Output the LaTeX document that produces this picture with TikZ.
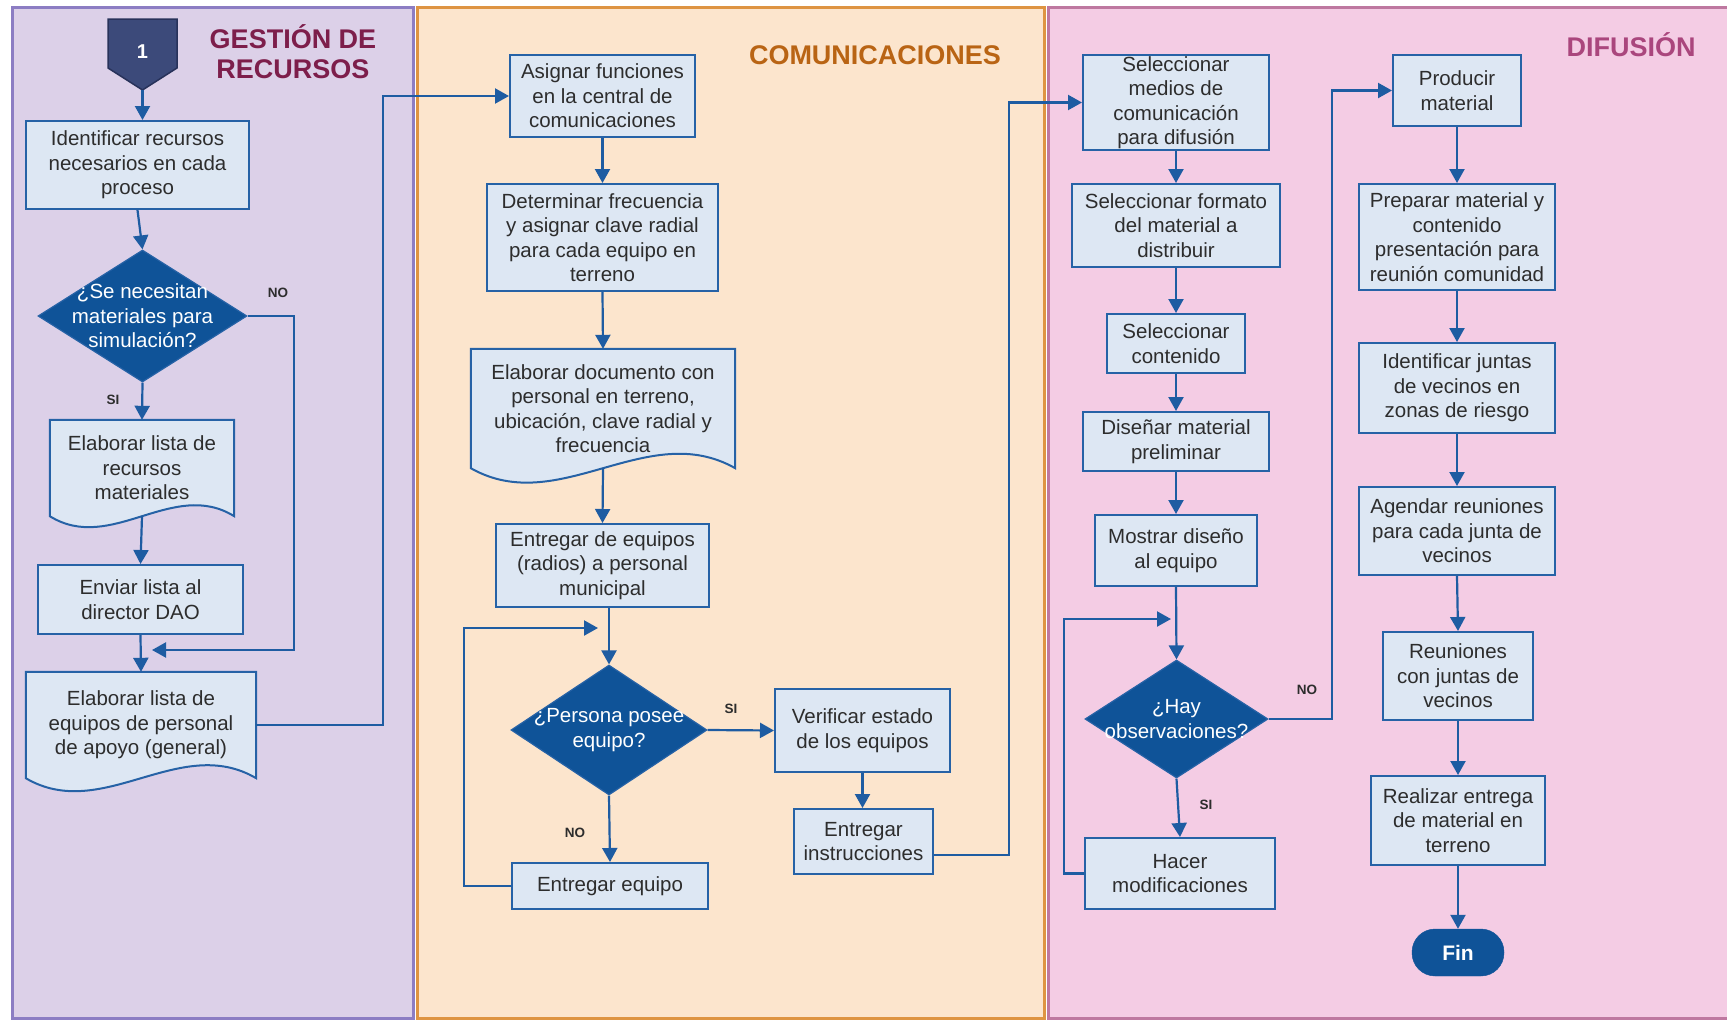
\documentclass[tikz,border=0pt]{standalone}
\usepackage{fontspec}
\setmainfont{Liberation Sans}
\usetikzlibrary{arrows.meta,shapes.geometric,calc}
\pgfdeclarelayer{lanes}
\pgfdeclarelayer{docbg}
\pgfsetlayers{lanes,docbg,main}
\definecolor{laneAfill}{RGB}{220,208,232}
\definecolor{laneAdraw}{RGB}{140,125,195}
\definecolor{laneBfill}{RGB}{252,229,205}
\definecolor{laneBdraw}{RGB}{222,148,66}
\definecolor{laneCfill}{RGB}{244,204,228}
\definecolor{laneCdraw}{RGB}{190,120,160}
\definecolor{titA}{RGB}{125,30,75}
\definecolor{titB}{RGB}{185,100,20}
\definecolor{titC}{RGB}{170,70,125}
\definecolor{boxblue}{RGB}{38,98,166}
\definecolor{boxfill}{RGB}{221,231,243}
\definecolor{arrblue}{RGB}{30,92,162}
\definecolor{decblue}{RGB}{15,83,152}
\definecolor{navy}{RGB}{60,74,122}
\definecolor{navydark}{RGB}{40,50,90}
\definecolor{txt}{RGB}{45,45,45}
\newcommand\boxfont{\fontsize{20.5}{24.5}\selectfont}
\newcommand\lblfont{\fontsize{13.5}{16}\selectfont\bfseries}
\newcommand\titfont{\fontsize{27}{30}\selectfont\bfseries}
\newcommand\docwave[2]{\draw[docline] (#1.north west) -- (#1.north east) -- (#1.south east)
  .. controls ($(#1.south east)!1/3!(#1.south west)+(0,-#2)$) and ($(#1.south east)!2/3!(#1.south west)+(0,#2)$) .. (#1.south west) -- cycle;}
\tikzset{
  box/.style={rectangle, draw=boxblue, fill=boxfill, line width=2pt, inner sep=0pt, align=center, font=\boxfont, text=txt},
  docnode/.style={rectangle, inner sep=0pt, align=center, font=\boxfont, text=txt},
  docline/.style={draw=boxblue, fill=boxfill, line width=2pt, line join=miter},
  dec/.style={diamond, draw=boxblue, fill=decblue, inner sep=0pt, line width=1.2pt},
  dectext/.style={font=\boxfont, text=white, align=center},
  arr/.style={draw=arrblue, line width=2.2pt, -{Triangle[length=14pt,width=15pt]}},
  lbl/.style={font=\lblfont, text=txt, inner sep=0pt},
  finnode/.style={rectangle, rounded corners=23pt, draw=decblue, fill=decblue, text=white, font=\fontsize{21}{24}\selectfont\bfseries, inner sep=0pt},
  lanetitle/.style={font=\titfont, align=center, inner sep=0pt}
}
\begin{document}
\begin{tikzpicture}[x=1pt,y=-1pt]
\useasboundingbox (0,0) rectangle (1727,1020);
\begin{pgfonlayer}{lanes}
  \fill[white] (0,0) rectangle (1727,1020);
  \draw[fill=laneAfill, draw=laneAdraw, line width=3pt] (12,7) rectangle (413,1018);
  \draw[fill=laneBfill, draw=laneBdraw, line width=3pt] (417,7) rectangle (1044,1018);
  \draw[fill=laneCfill, draw=laneCdraw, line width=3pt] (1048,7) rectangle (1735,1018);
\end{pgfonlayer}

% lane titles
\node[lanetitle, text=titA] (tA) at (293,52) {GESTIÓN DE\\RECURSOS};
\node[lanetitle, text=titB] (tB) at (875,55) {COMUNICACIONES};
\node[lanetitle, text=titC] (tC) at (1631,45) {DIFUSIÓN};

% start off-page connector
\filldraw[fill=navy, draw=navydark, line width=1.5pt] (108,19) -- (177,19) -- (177,68) -- (142.5,90) -- (108,68) -- cycle;
\node[text=white, font=\fontsize{20}{24}\selectfont\bfseries] (start) at (142.5,52) {1};
\coordinate (starttip) at (142.5,90);

% lane 1
\node[box, minimum width=223pt, minimum height=88pt] (box1) at (137.5,165) {Identificar recursos\\necesarios en cada\\proceso};
\node[dec, minimum width=209pt, minimum height=132pt, label={[dectext]center:{¿Se necesitan\\materiales para\\simulación?}}] (dia1) at (142.5,316) {};
\node[docnode, minimum width=184pt, minimum height=96pt] (doc1) at (142,468) {Elaborar lista de\\recursos\\materiales};
\node[box, minimum width=205pt, minimum height=69pt] (enviar) at (140.5,599.5) {Enviar lista al\\director DAO};
\node[docnode, minimum width=230pt, minimum height=106pt] (doc2) at (141,725) {Elaborar lista de\\equipos de personal\\de apoyo (general)};
\coordinate (j1) at (152,650);

% lane 2
\node[box, minimum width=185pt, minimum height=82pt] (asig) at (602.5,96) {Asignar funciones\\en la central de\\comunicaciones};
\node[box, minimum width=231pt, minimum height=107pt] (det) at (602.5,237.5) {Determinar frecuencia\\y asignar clave radial\\para cada equipo en\\terreno};
\node[docnode, minimum width=264pt, minimum height=119pt] (doc3) at (603,408.5) {Elaborar documento con\\personal en terreno,\\ubicación, clave radial y\\frecuencia};
\node[box, minimum width=213pt, minimum height=83pt] (ent1) at (602.5,565.5) {Entregar de equipos\\(radios) a personal\\municipal};
\node[dec, minimum width=196pt, minimum height=130pt, label={[dectext]center:{¿Persona posee\\equipo?}}] (dia2) at (609,730) {};
\node[box, minimum width=196pt, minimum height=46pt] (enteq) at (610,886) {Entregar equipo};
\node[box, minimum width=175pt, minimum height=83pt] (verif) at (862.5,730.5) {Verificar estado\\de los equipos};
\node[box, minimum width=139pt, minimum height=65pt] (instr) at (863.5,841.5) {Entregar\\instrucciones};
\coordinate (j3) at (598,628);

% lane 3
\node[box, minimum width=186pt, minimum height=95pt] (selmed) at (1176,102.5) {Seleccionar\\medios de\\comunicación\\para difusión};
\node[box, minimum width=208pt, minimum height=83pt] (selfor) at (1176,225.5) {Seleccionar formato\\del material a\\distribuir};
\node[box, minimum width=138pt, minimum height=59pt] (selcont) at (1176,343.5) {Seleccionar\\contenido};
\node[box, minimum width=186pt, minimum height=59pt] (disen) at (1176,441.5) {Diseñar material\\preliminar};
\node[box, minimum width=162pt, minimum height=71pt] (mostrar) at (1176,550.5) {Mostrar diseño\\al equipo};
\node[dec, minimum width=183pt, minimum height=118pt, label={[dectext]center:{¿Hay\\observaciones?}}] (dia3) at (1176.5,719) {};
\node[box, minimum width=190pt, minimum height=71pt] (hacer) at (1180,873.5) {Hacer\\modificaciones};
\coordinate (j4) at (1171,619);
\node[box, minimum width=128pt, minimum height=71pt] (prod) at (1457,90.5) {Producir\\material};
\node[box, minimum width=196pt, minimum height=106pt] (prep) at (1457,237) {Preparar material y\\contenido\\presentación para\\reunión comunidad};
\node[box, minimum width=196pt, minimum height=90pt] (ident) at (1457,388) {Identificar juntas\\de vecinos en\\zonas de riesgo};
\node[box, minimum width=196pt, minimum height=88pt] (agend) at (1457,531) {Agendar reuniones\\para cada junta de\\vecinos};
\node[box, minimum width=150pt, minimum height=88pt] (reun) at (1458,676) {Reuniones\\con juntas de\\vecinos};
\node[box, minimum width=174pt, minimum height=89pt] (real) at (1458,820.5) {Realizar entrega\\de material en\\terreno};
\node[finnode, minimum width=92pt, minimum height=47pt] (fin) at (1458,952.5) {Fin};

% document shapes
\begin{pgfonlayer}{docbg}
  \docwave{doc1}{38}
  \docwave{doc2}{45}
  \docwave{doc3}{50}
\end{pgfonlayer}

% labels
\node[lbl] (lno1) at (278,293) {NO};
\node[lbl] (lsi1) at (113,400) {SI};
\node[lbl] (lsi2) at (731,709) {SI};
\node[lbl] (lno2) at (575,833) {NO};
\node[lbl] (lno3) at (1307,690) {NO};
\node[lbl] (lsi3) at (1206,805) {SI};

% connectors lane 1
\draw[arr] (starttip) -- (starttip |- box1.north);
\draw[arr] (box1.south) -- (dia1.north);
\draw[arr] (dia1.south) -- (doc1.north);
\draw[arr] (dia1.east) -- ++(46,0) |- (j1);
\draw[arr] (doc1.south) -- (enviar.north);
\draw[arr] (enviar.south) -- (doc2.north);
\draw[arr] (doc2.east) -- ++(127,0) |- (asig.west);

% connectors lane 2
\draw[arr] (asig.south) -- (det.north);
\draw[arr] (det.south) -- (doc3.north);
\draw[arr] (doc3.south) -- (ent1.north);
\draw[arr] (ent1.south -| dia2.north) -- (dia2.north);
\draw[arr] (enteq.west) -- ++(-47,0) |- (j3);
\draw[arr] (dia2.east) -- (verif.west);
\draw[arr] (dia2.south) -- (enteq.north);
\draw[arr] (verif.south) -- (verif.south |- instr.north);
\draw[arr] ([yshift=-13.5pt]instr.east) -- ++(75,0) |- (selmed.west);

% connectors lane 3
\draw[arr] (selmed.south) -- (selfor.north);
\draw[arr] (selfor.south) -- (selcont.north);
\draw[arr] (selcont.south) -- (disen.north);
\draw[arr] (disen.south) -- (mostrar.north);
\draw[arr] (mostrar.south) -- (dia3.north);
\draw[arr] (hacer.west) -- ++(-20,0) |- (j4);
\draw[arr] (dia3.south) -- (hacer.north);
\draw[arr] (dia3.east) -- ++(63,0) |- (prod.west);
\draw[arr] (prod.south) -- (prep.north);
\draw[arr] (prep.south) -- (ident.north);
\draw[arr] (ident.south) -- (agend.north);
\draw[arr] (agend.south) -- (reun.north);
\draw[arr] (reun.south) -- (real.north);
\draw[arr] (real.south) -- (fin.north);
\end{tikzpicture}
\end{document}
